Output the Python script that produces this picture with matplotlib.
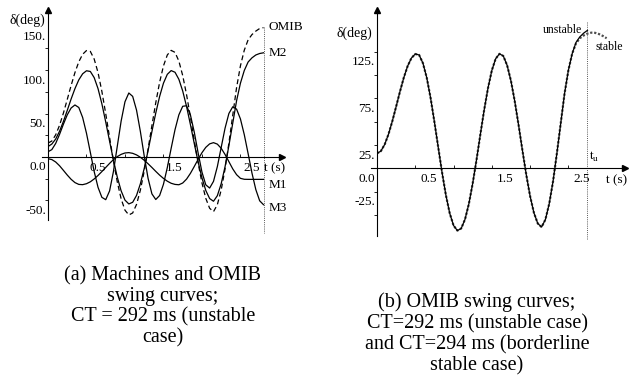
import matplotlib.pyplot as plt
import matplotlib.transforms as mtransforms
import numpy as np

plt.rcParams['font.family'] = ['Liberation Serif', 'DejaVu Serif']

# ---- (a) machines and OMIB swing curves, CT = 292 ms ----
t_a = np.linspace(0, 2.8, 57)   # 0.05 s steps

omib = [16, 18.4, 25.5, 36.5, 50.5, 66.2, 82.3, 97.2, 109.6, 118.3,
        122.6, 121.6, 112.8, 97.2, 75.5, 49.8, 22.5, -4.5, -28.7, -48.2,
        -61.3, -66.8, -64.5, -54.7, -38.2, -16.3, 9.0, 36.2, 62.5, 86.0,
        104.9, 117.5, 122.8, 120.5, 110.5, 93.8, 71.8, 46.2, 19.2, -6.8,
        -29.8, -47.7, -59.1, -63.0, -55.0, -38.0, -14.0, 16.0, 48.0, 80.0,
        105.0, 123.0, 135.0, 141.0, 145.0, 148.0, 149.0]

m1 = [-2, -3.0, -5.8, -10.1, -15.4, -20.8, -25.7, -29.5, -31.6, -31.9,
      -30.8, -28.6, -25.3, -21.3, -16.8, -12.1, -7.4, -3.1, 0.4, 3.0,
      4.6, 5.0, 4.2, 2.4, -0.3, -3.8, -7.8, -12.1, -16.6, -20.9,
      -24.7, -27.9, -30.3, -31.6, -32.0, -30.0, -25.5, -18.9, -11.0, -2.8,
      4.9, 11.1, 15.1, 16.5, 14.8, 10.0, 2.9, -5.4, -13.7, -20.4,
      -24.6, -25.7, -25.8, -25.8, -25.8, -25.8, -25.8]

m2 = [12, 14.9, 20.7, 29.6, 40.9, 53.6, 66.7, 78.7, 88.8, 95.8,
      99.3, 98.5, 91.4, 78.7, 61.2, 40.3, 18.2, -3.6, -23.2, -39.0,
      -49.7, -54.1, -52.2, -44.3, -30.9, -13.2, 7.3, 29.3, 50.6, 69.7,
      85.0, 95.2, 99.5, 97.6, 89.5, 76.0, 58.2, 37.4, 15.6, -5.5,
      -24.1, -38.6, -47.9, -51.0, -44.6, -30.8, -11.3, 13.0, 38.9, 64.8,
      85.0, 99.6, 109.4, 114.2, 117.5, 119.2, 120.0]

m3 = [6, 8.5, 15.6, 26.0, 37.7, 48.5, 56.4, 59.9, 57.0, 45.5,
      27.3, 5.3, -16.8, -35.0, -46.5, -49.2, -39.1, -16.8, 12.3, 41.3,
      63.6, 73.7, 69.8, 54.0, 29.4, 1.2, -24.6, -42.5, -49.0, -44.4,
      -31.4, -12.2, 10.0, 31.4, 48.5, 58.4, 59.0, 48.5, 28.7, 4.8,
      -17.4, -32.1, -35.8, -28.1, -11.1, 11.0, 33.1, 50.1, 57.8, 55.1,
      43.8, 25.7, 3.8, -18.6, -37.6, -50.5, -55.0]

# ---- (b) OMIB, CT = 292 ms (unstable) and CT = 294 ms (stable) ----
t_unst = np.linspace(0, 2.75, 56)
omib_unstable = omib[:56]
t_stab = np.linspace(0, 3.0, 61)
omib_stable = omib[:52] + [134, 139.5, 142.5, 144.5, 145.5, 145.3, 144.0, 142.0, 139.5]

tu_a = 2.8
tu_b = 2.75

yt_a = [150, 100, 50, 0, -50]
yl_a = ['150.', '100.', '50.', '0.0', '-50.']
yt_b = [125, 75, 25, 0, -25]
yl_b = ['125.', '75.', '25.', '0.0', '-25.']
xt = [0.5, 1.5, 2.5]
xl = ['0.5', '1.5', '2.5']

fig = plt.figure(figsize=(6.29, 3.85), dpi=100)
ax1 = fig.add_axes([48/629, 165/385, 234/629, 210/385])
ax2 = fig.add_axes([377/629, 149/385, 248/629, 226/385])


def setup(ax, xmax, ylim, yticks, ylabels, dx):
    ax.set_xlim(0, xmax)
    ax.set_ylim(*ylim)
    ax.patch.set_visible(False)
    ax.spines['top'].set_visible(False)
    ax.spines['right'].set_visible(False)
    ax.spines['bottom'].set_position(('data', 0))
    ax.spines['bottom'].set_bounds(-0.08, xmax)
    for s in ['left', 'bottom']:
        ax.spines[s].set_linewidth(0.8)
    ax.set_xticks([0.5, 1.0, 1.5, 2.0, 2.5])
    ax.set_xticklabels([])
    ax.set_yticks(np.arange(-50, 126, 25))
    ax.set_yticklabels([])
    ax.tick_params(axis='x', direction='in', length=2.5, width=0.6)
    ax.tick_params(axis='y', direction='out', length=2.5, width=0.6)
    ax.plot(1, 0, '>k', ms=4, transform=ax.get_yaxis_transform(), clip_on=False)
    ax.plot(0, 1, '^k', ms=4, transform=ax.get_xaxis_transform(), clip_on=False)

    yoff = mtransforms.ScaledTranslation(-0.02, -0.105, fig.dpi_scale_trans)
    for v, s in zip(yticks, ylabels):
        ax.text(0, v, s, transform=ax.get_yaxis_transform() + yoff,
                ha='right', va='center', fontsize=9.5)
    xoff = mtransforms.ScaledTranslation(dx, -0.11, fig.dpi_scale_trans)
    for v, s in zip(xt, xl):
        ax.text(v, 0, s, transform=ax.transData + xoff,
                ha='center', va='center', fontsize=9.5)


setup(ax1, 3.04, (-72.6, 169.3), yt_a, yl_a, 0.11)
setup(ax2, 3.24, (-72.6, 169.8), yt_b, yl_b, 0.13)

# left panel curves
ax1.plot(t_a, omib, color='k', lw=0.9, dashes=(4, 2.5))
ax1.plot(t_a, m2, color='k', lw=0.9)
ax1.plot(t_a, m1, color='k', lw=0.9)
ax1.plot(t_a, m3, color='k', lw=0.9)
ax1.plot([tu_a, tu_a], [150, -88], color='0.35', ls=(0, (1, 1.2)), lw=0.7, clip_on=False)

ax1.text(-0.27, 158, 'δ(deg)', ha='center', va='center', fontsize=10)
ax1.text(2.86, 150, 'OMIB', ha='left', va='center', fontsize=9.5)
ax1.text(2.86, 120, 'M2', ha='left', va='center', fontsize=9.5)
ax1.text(2.86, -32, 'M1', ha='left', va='center', fontsize=9.5)
ax1.text(2.86, -59, 'M3', ha='left', va='center', fontsize=9.5)
ax1.text(2.80, -12.7, 't (s)', ha='left', va='center', fontsize=9.5)

# right panel curves
ax2.plot(t_stab, omib_stable, color='0.3', ls=(0, (1, 0.8)), lw=1.6)
ax2.plot(t_unst, omib_unstable, color='k', lw=0.9)
ax2.plot([tu_b, tu_b], [157, -77], color='0.35', ls=(0, (1, 1.2)), lw=0.7, clip_on=False)

ax2.text(-0.30, 145, 'δ(deg)', ha='center', va='center', fontsize=10)
ax2.text(2.42, 148, 'unstable', ha='center', va='center', fontsize=8.5)
ax2.text(3.03, 130, 'stable', ha='center', va='center', fontsize=8.5)
ax2.text(2.77, 12, r't$_{\mathregular{u}}$', ha='left', va='center', fontsize=9.5)
ax2.text(3.13, -12.5, 't (s)', ha='center', va='center', fontsize=9.5)

# captions
fig.text(163/629, 1 - 307/385,
         '(a) Machines and OMIB\nswing curves;\nCT = 292 ms (unstable\ncase)',
         ha='center', va='center', fontsize=14.5, linespacing=1.12)
fig.text(477/629, 1 - 334/385,
         '(b) OMIB swing curves;\nCT=292 ms (unstable case)\nand CT=294 ms (borderline\nstable case)',
         ha='center', va='center', fontsize=14.5, linespacing=1.12)

fig.savefig('out.png', dpi=100)
